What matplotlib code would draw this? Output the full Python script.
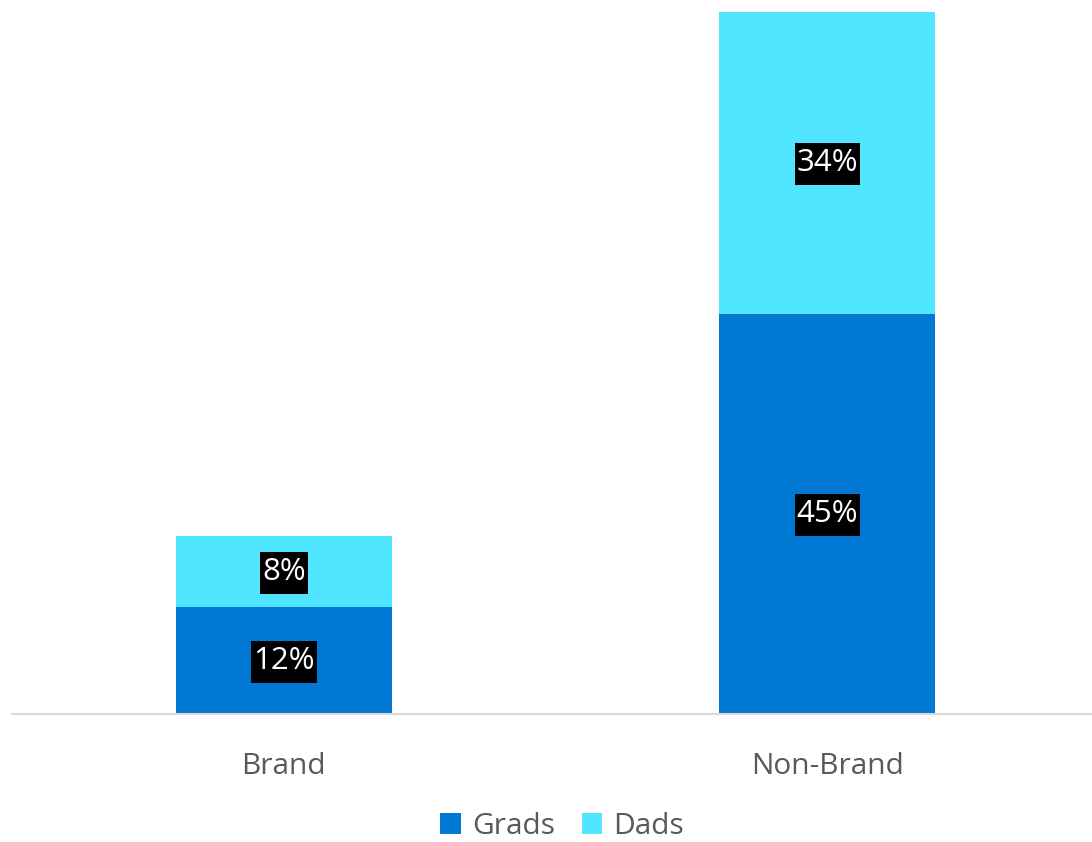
import matplotlib
matplotlib.use("Agg")
import matplotlib.pyplot as plt
from matplotlib.patches import Rectangle

# Data
categories = ['Brand', 'Non-Brand']
grads = [12, 45]
dads = [8, 34]

plt.rcParams['font.family'] = ['Open Sans', 'DejaVu Sans']

fig = plt.figure(figsize=(10.92, 8.42), dpi=100)
ax = fig.add_axes([12 / 1092, 128 / 842, 1080 / 1092, 702 / 842])

x = range(len(categories))
width = 0.397
b1 = ax.bar(x, grads, width, color='#0078d4', label='Grads')
b2 = ax.bar(x, dads, width, bottom=grads, color='#50e6ff', label='Dads')

# Value labels (white text)
labels = []
for bars, vals, base in [(b1, grads, [0, 0]), (b2, dads, grads)]:
    for bar, v, b in zip(bars, vals, base):
        t = ax.text(bar.get_x() + bar.get_width() / 2, b + v / 2, f'{v}%',
                    ha='center', va='center', color='white', fontsize=22.5,
                    zorder=5)
        labels.append(t)

ax.set_xlim(-0.5, 1.487)
ax.set_ylim(0, 79)
ax.set_xticks(list(x))
ax.set_xticklabels(categories, fontsize=21.5, color='#595959')
ax.tick_params(axis='x', length=0, pad=27)
ax.set_yticks([])
for s in ['top', 'right', 'left']:
    ax.spines[s].set_visible(False)
ax.spines['bottom'].set_color('#d9d9d9')
ax.spines['bottom'].set_linewidth(1.5)

fig.legend(loc='center', bbox_to_anchor=(562 / 1092, 1 - 826 / 842), ncol=2,
           frameon=False, fontsize=21.5, labelcolor='#595959',
           handlelength=0.7, handleheight=0.7, handletextpad=0.35,
           columnspacing=0.9)

# black boxes behind labels, taller padding than wide
fig.canvas.draw()
renderer = fig.canvas.get_renderer()
for t in labels:
    bb = t.get_window_extent(renderer)
    px, py = 2, 6
    ax.add_patch(Rectangle((bb.x0 - px, bb.y0 - py - 1), bb.width + 2 * px,
                           bb.height + 2 * py, transform=None,
                           facecolor='black', edgecolor='none', zorder=4))

fig.savefig('out.png', dpi=100)
